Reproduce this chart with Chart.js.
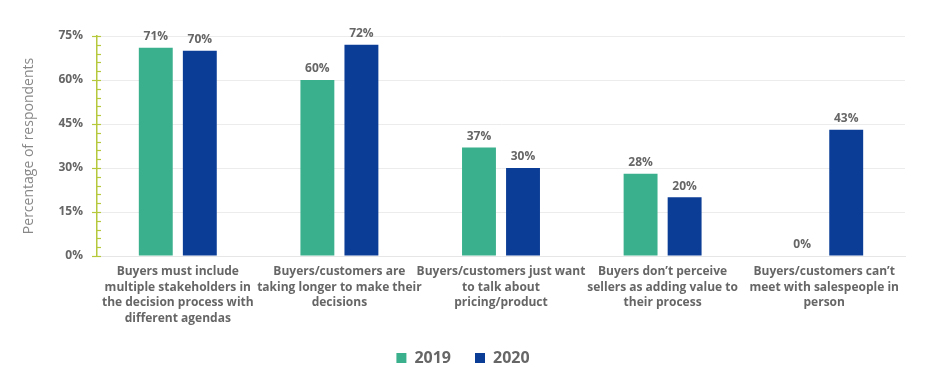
<!DOCTYPE html>
<html>
<head>
<meta charset="utf-8">
<script src="https://cdn.jsdelivr.net/npm/chart.js@4.4.1/dist/chart.umd.min.js"></script>
<style>
  html, body { margin: 0; padding: 0; background: #fff; }
  #wrap { width: 936px; height: 374px; }
</style>
</head>
<body>
<div id="wrap"><canvas id="chart"></canvas></div>
<script>
// ------------------ Data ------------------
const categories = [
  ["Buyers must include", "multiple stakeholders in", "the decision process with", "different agendas"],
  ["Buyers/customers are", "taking longer to make their", "decisions"],
  ["Buyers/customers just want", "to talk about", "pricing/product"],
  ["Buyers don\u2019t perceive", "sellers as adding value to", "their process"],
  ["Buyers/customers can\u2019t", "meet with salespeople in", "person"]
];
const values2019 = [71, 60, 37, 28, 0];
const values2020 = [70, 72, 30, 20, 43];
const yTicks = [0, 15, 30, 45, 60, 75];

const GREEN = "#3ab08d";
const BLUE = "#0b3d96";
const AXIS = "#b6c83c";
const TEXT = "#666666";
const FONT = "'Open Sans', sans-serif";

// ------------------ Plugins ------------------
// value labels above each bar
const valueLabels = {
  id: "valueLabels",
  afterDatasetsDraw(chart) {
    const ctx = chart.ctx;
    ctx.save();
    ctx.font = "bold 12px " + FONT;
    ctx.fillStyle = TEXT;
    ctx.textAlign = "center";
    ctx.textBaseline = "bottom";
    chart.data.datasets.forEach((ds, i) => {
      chart.getDatasetMeta(i).data.forEach((bar, j) => {
        ctx.fillText(ds.data[j] + "%", bar.x, bar.y - 5);
      });
    });
    ctx.restore();
  }
};

// tick marks on the y axis line (major every 15, minor every 3)
const axisTicks = {
  id: "axisTicks",
  afterDraw(chart) {
    const y = chart.scales.y;
    const ctx = chart.ctx;
    const x0 = chart.chartArea.left;
    ctx.save();
    ctx.strokeStyle = AXIS;
    ctx.lineWidth = 1.2;
    for (let v = 0; v <= 75; v += 3) {
      const py = Math.round(y.getPixelForValue(v)) + 0.5;
      ctx.beginPath();
      if (v % 15 === 0) {
        ctx.moveTo(x0 - 5, py);
        ctx.lineTo(x0 + 4, py);
      } else {
        ctx.moveTo(x0, py);
        ctx.lineTo(x0 + 4, py);
      }
      ctx.stroke();
    }
    ctx.restore();
  }
};

// ------------------ Chart ------------------
new Chart(document.getElementById("chart"), {
  type: "bar",
  data: {
    labels: categories,
    datasets: [
      { label: "2019", data: values2019, backgroundColor: GREEN },
      { label: "2020", data: values2020, backgroundColor: BLUE }
    ]
  },
  options: {
    responsive: true,
    maintainAspectRatio: false,
    animation: false,
    datasets: { bar: { categoryPercentage: 0.545, barPercentage: 0.77 } },
    layout: { padding: { left: 21, right: 31, top: 36, bottom: -2 } },
    plugins: {
      tooltip: { enabled: false },
      legend: {
        position: "bottom",
        labels: {
          font: { family: FONT, size: 16, weight: "bold" },
          color: TEXT,
          boxWidth: 10,
          boxHeight: 10,
          padding: 24
        }
      }
    },
    scales: {
      x: {
        grid: { display: false },
        border: { color: "#e6e6e6" },
        ticks: {
          color: TEXT,
          font: { family: FONT, size: 12, weight: "bold", lineHeight: 1.3 },
          maxRotation: 0,
          autoSkip: false,
          padding: 0
        },
        afterFit(scale) { scale.height = 70; }
      },
      y: {
        min: 0,
        max: 75,
        afterBuildTicks(scale) { scale.ticks = yTicks.map(v => ({ value: v })); },
        grid: { color: "#ececec", drawTicks: false },
        border: { color: AXIS, width: 1.5 },
        ticks: {
          color: TEXT,
          font: { family: FONT, size: 12, weight: "bold" },
          padding: 14,
          callback: v => v + "%"
        },
        title: {
          display: true,
          text: "Percentage of respondents",
          color: "#888888",
          font: { family: FONT, size: 14 },
          padding: 0
        },
        afterFit(scale) { scale.width = 76; }
      }
    }
  },
  plugins: [valueLabels, axisTicks]
});
</script>
</body>
</html>
